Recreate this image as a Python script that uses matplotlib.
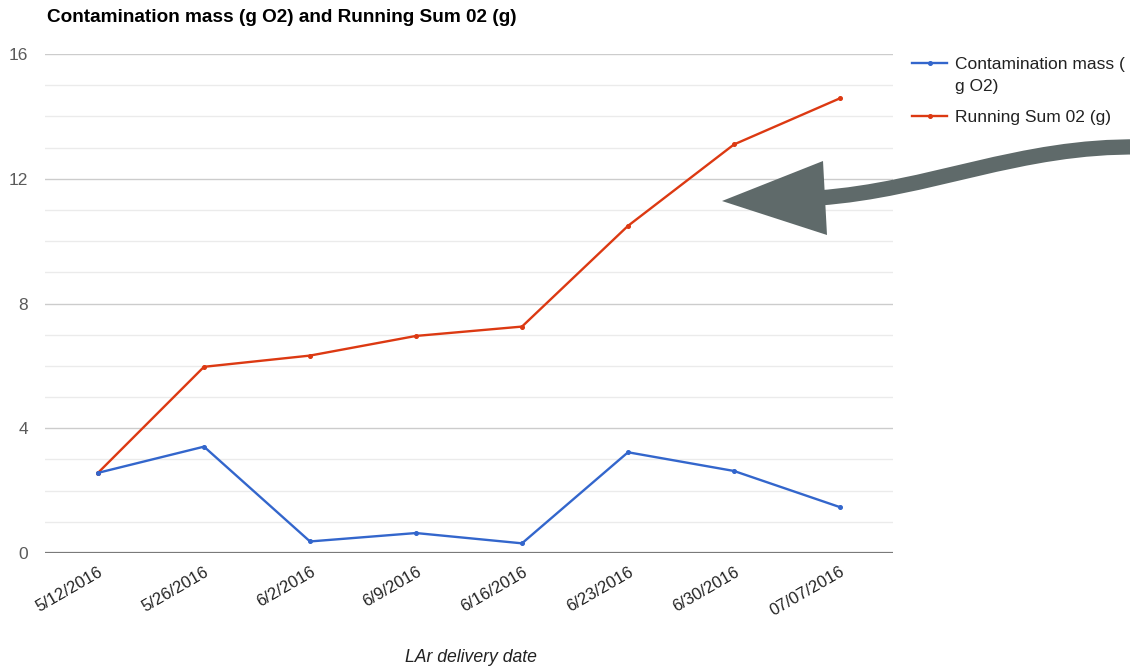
import matplotlib
matplotlib.use("Agg")
import matplotlib.pyplot as plt
from matplotlib.lines import Line2D
from matplotlib.path import Path
from matplotlib.patches import PathPatch, Polygon
from matplotlib.ticker import MultipleLocator

plt.rcParams['font.family'] = ['Liberation Sans', 'DejaVu Sans']

# Delivery dates and oxygen contamination per delivery
dates = ["5/12/2016", "5/26/2016", "6/2/2016", "6/9/2016",
         "6/16/2016", "6/23/2016", "6/30/2016", "07/07/2016"]
contamination = [2.57, 3.41, 0.37, 0.64, 0.31, 3.23, 2.63, 1.47]
running_sum = [2.57, 5.97, 6.33, 6.96, 7.26, 10.49, 13.10, 14.58]
series_names = ["Contamination mass (\ng O2)", "Running Sum 02 (g)"]
title = "Contamination mass (g O2) and Running Sum 02 (g)"
x_label = "LAr delivery date"
y_ticks = [0, 4, 8, 12, 16]

BLUE = "#3366cc"
RED = "#dc3912"
W, H = 1130, 666

fig = plt.figure(figsize=(W / 100, H / 100), dpi=100)
ax = fig.add_axes([45 / W, 1 - 553 / H, (893 - 45) / W, (553 - 54) / H])

xs = list(range(len(dates)))
ax.plot(xs, contamination, color=BLUE, lw=1.7, marker="o", ms=2.6, zorder=4)
ax.plot(xs, running_sum, color=RED, lw=1.7, marker="o", ms=2.6, zorder=3)

ax.set_xlim(-0.5, len(dates) - 0.5)
ax.set_ylim(0, 16)
ax.set_yticks(y_ticks)
ax.yaxis.set_minor_locator(MultipleLocator(1))
ax.grid(which="major", axis="y", color="#cccccc", lw=1.0)
ax.grid(which="minor", axis="y", color="#ebebeb", lw=1.0)
ax.set_axisbelow(True)
ax.axhline(0, color="#7a7a7a", lw=1.6, zorder=2)
for s in ax.spines.values():
    s.set_visible(False)

ax.tick_params(axis="y", which="both", length=0, pad=12, labelsize=12.5,
               labelcolor="#5a5a5a")
ax.tick_params(axis="x", length=0, pad=8, labelsize=12, labelcolor="#222222")
ax.set_xticks(xs)
ax.set_xticklabels(dates, rotation=30, ha="right", va="top",
                   rotation_mode="anchor")

fig.text(471 / W, 1 - 657 / H, x_label, fontsize=12.7, style="italic",
         color="#222222", ha="center", va="center")

fig.text(47 / W, 1 - 17 / H, title, fontsize=13.7, fontweight="bold",
         color="#000000", ha="left", va="center")

# Legend drawn beside the plot area
legend_rows = [(63, BLUE, series_names[0]), (116, RED, series_names[1])]
for y, c, name in legend_rows:
    fig.add_artist(Line2D([912 / W, 947 / W], [1 - y / H, 1 - y / H],
                          color=c, lw=1.7, transform=fig.transFigure))
    fig.add_artist(Line2D([930 / W], [1 - y / H], color=c, marker="o",
                          ms=2.6, transform=fig.transFigure))
    fig.text(955 / W, 1 - (y - 6) / H, name, fontsize=12.5, color="#222222",
             ha="left", va="top", linespacing=1.6)

# Curved pointer arrow toward the running sum
def fp(x, y):
    return (x / W, 1 - y / H)

tail = Path([fp(1140, 147), fp(1020, 145), fp(930, 190), fp(818, 198)],
            [Path.MOVETO, Path.CURVE4, Path.CURVE4, Path.CURVE4])
fig.add_artist(PathPatch(tail, fill=False, edgecolor="#5f6a6a", lw=11,
                         capstyle="butt", transform=fig.transFigure))
fig.add_artist(Polygon([fp(722, 201), fp(823, 161), fp(827, 235)],
                       closed=True, facecolor="#5f6a6a", edgecolor="none",
                       transform=fig.transFigure))

fig.savefig("out.png", dpi=100)
